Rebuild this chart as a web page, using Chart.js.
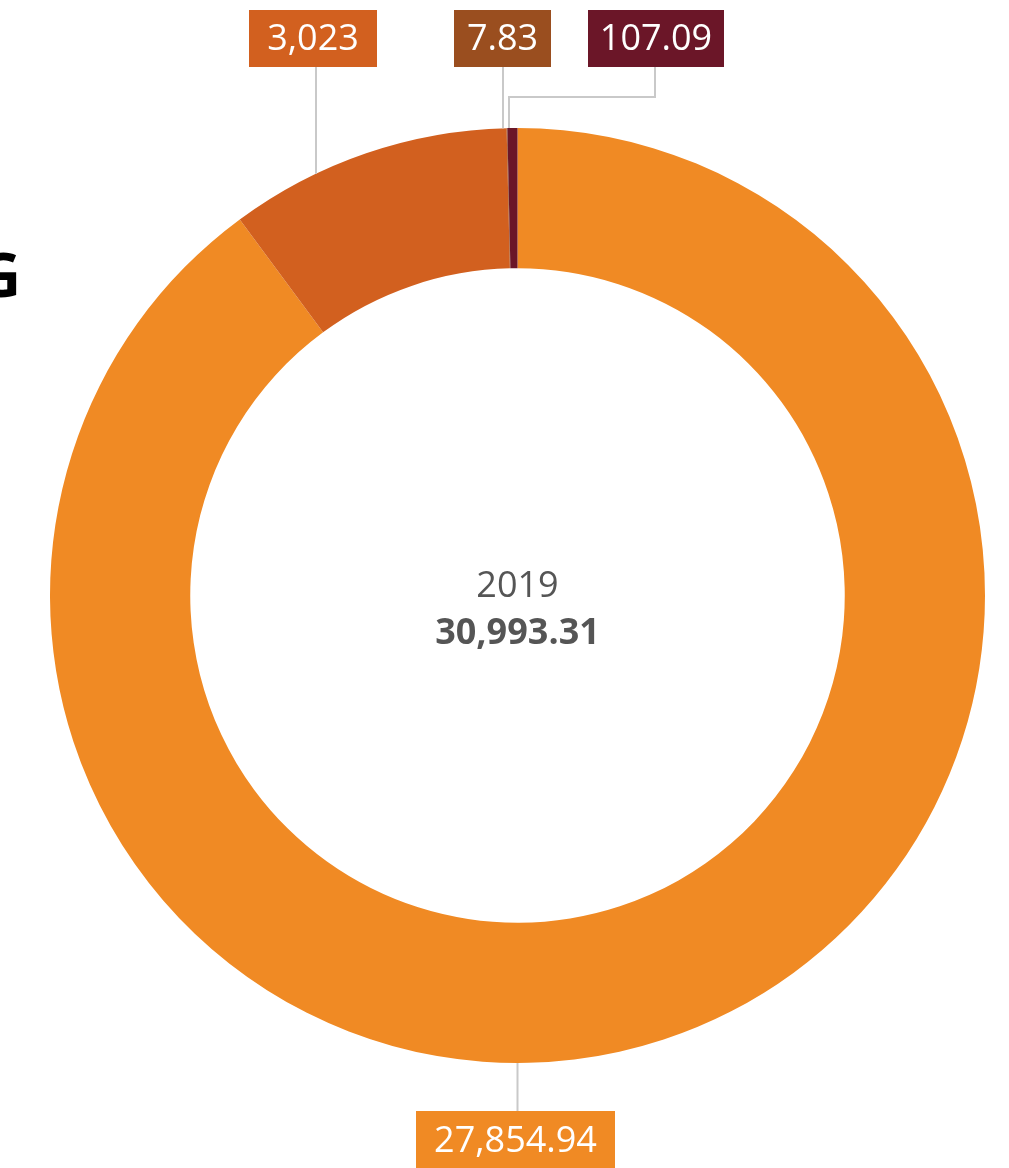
<!DOCTYPE html>
<html>
<head>
<meta charset="utf-8">
<script src="https://cdn.jsdelivr.net/npm/chart.js@4"></script>
<style>
html,body{margin:0;padding:0;background:#fff;}
#wrap{position:relative;width:1009px;height:1168px;}
</style>
</head>
<body>
<div id="wrap"><canvas id="c" width="1009" height="1168"></canvas></div>
<script>
const categories = ['A', 'B', 'C', 'D'];
const values = [27854.94, 3023, 7.83, 107.09];
const valueLabels = ['27,854.94', '3,023', '7.83', '107.09'];
const colors = ['#F08A24', '#D2601F', '#9A4E1F', '#6B1628'];
const centerYear = '2019';
const centerTotal = '30,993.31';

const calloutPlugin = {
  id: 'callouts',
  afterDraw(chart) {
    const ctx = chart.ctx;
    const meta = chart.getDatasetMeta(0);
    const arc0 = meta.data[0];
    const cx = arc0.x, cy = arc0.y, R = arc0.outerRadius;
    const edgeY = (x) => cy - Math.sqrt(R * R - (x - cx) * (x - cx));
    const font = '36px "Open Sans"';

    function box(x1, y1, x2, y2, color, text) {
      ctx.fillStyle = color;
      ctx.fillRect(x1, y1, x2 - x1, y2 - y1);
      ctx.fillStyle = '#fff';
      ctx.font = font;
      ctx.textAlign = 'center';
      ctx.textBaseline = 'middle';
      ctx.fillText(text, (x1 + x2) / 2, (y1 + y2) / 2 + 1);
    }
    ctx.save();
    ctx.strokeStyle = '#c9c9c9';
    ctx.lineWidth = 2;
    ctx.beginPath();
    ctx.moveTo(316, 67); ctx.lineTo(316, edgeY(316));
    ctx.moveTo(503, 67); ctx.lineTo(503, edgeY(503));
    ctx.moveTo(655, 67); ctx.lineTo(655, 97); ctx.lineTo(509, 97); ctx.lineTo(509, edgeY(509));
    ctx.moveTo(cx, cy + R); ctx.lineTo(cx, 1111);
    ctx.stroke();
    box(249, 10, 377, 67, colors[1], valueLabels[1]);
    box(454, 10, 551, 67, colors[2], valueLabels[2]);
    box(588, 10, 724, 67, colors[3], valueLabels[3]);
    box(416, 1111, 615, 1170, colors[0], valueLabels[0]);

    ctx.fillStyle = '#555555';
    ctx.textAlign = 'center';
    ctx.textBaseline = 'middle';
    ctx.font = '36px "Open Sans"';
    ctx.fillText(centerYear, cx, 587);
    ctx.font = 'bold 36px "Open Sans"';
    ctx.fillText(centerTotal, cx, 634);

    ctx.fillStyle = '#000';
    ctx.font = 'bold 60px "Open Sans"';
    ctx.textAlign = 'right';
    ctx.textBaseline = 'alphabetic';
    ctx.fillText('G', 21, 297);
    ctx.restore();
  }
};

new Chart(document.getElementById('c'), {
  type: 'doughnut',
  data: {
    labels: categories,
    datasets: [{
      data: values,
      backgroundColor: colors,
      borderWidth: 0,
      hoverOffset: 0
    }]
  },
  options: {
    responsive: false,
    animation: false,
    cutout: '70%',
    rotation: 0,
    layout: { padding: { left: 50, right: 24, top: 128, bottom: 105 } },
    plugins: {
      legend: { display: false },
      tooltip: { enabled: false }
    }
  },
  plugins: [calloutPlugin]
});
</script>
</body>
</html>
